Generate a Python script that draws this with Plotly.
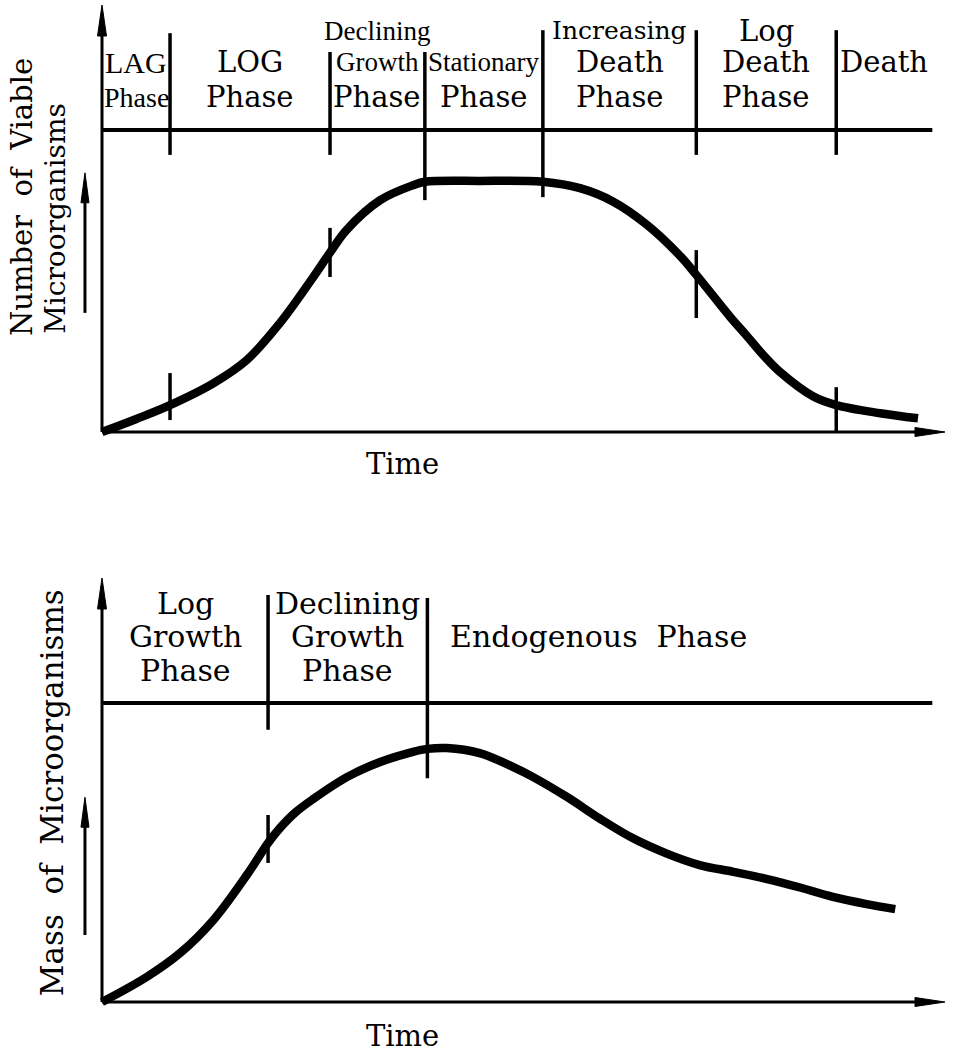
import plotly.graph_objects as go

# ---------------- data ----------------
# Upper panel: number of viable microorganisms against time (schematic units)
top_time = [0, 4.0, 8.07, 13.2, 17.2, 21.1, 25.1, 27.0, 29.0, 33.0, 36.9, 38.3,
            44.8, 52.3, 56.7, 60.6, 64.6, 68.6, 70.5, 74.5, 76.5, 78.4, 80.4,
            84.4, 87.1, 92.3, 96.8]
top_viable = [0, 3.0, 6.3, 11.4, 16.9, 25.5, 36.4, 41.9, 47.3, 54.3, 57.8, 58.6,
              58.8, 58.6, 57.1, 54.0, 48.6, 41.2, 36.8, 27.0, 22.5, 18.1, 14.1,
              8.3, 6.3, 4.4, 3.2]

# Lower panel: mass of microorganisms against time
bottom_time = [0, 5.3, 9.3, 13.2, 17.2, 19.7, 21.1, 23.0, 25.0, 29.1, 33.0, 36.9,
               38.6, 40.9, 44.8, 48.8, 51.1, 55.2, 59.1, 63.0, 67.0, 70.9, 74.9,
               78.9, 82.8, 86.7, 90.7, 94.1]
bottom_mass = [0, 5.9, 11.6, 19.3, 30.0, 37.5, 41.0, 44.8, 47.8, 53.1, 56.6, 59.0,
               59.7, 59.9, 58.7, 55.4, 53.1, 48.3, 43.2, 38.6, 35.0, 32.3, 30.7,
               29.0, 27.0, 24.8, 23.1, 21.9]

# Phase boundaries (time) and the vertical extent of each divider
top_bounds = [8.07, 27.05, 38.3, 52.3, 70.5, 87.1]
top_div_hi = [93.4, 89.0, 89.0, 94.1, 94.1, 94.1]
top_div_lo = [64.9, 64.9, 54.3, 55.0, 64.9, 64.9]
# short marks where a boundary crosses the curve (None = divider reaches curve)
top_mark_lo = [2.8, 36.3, None, None, 26.7, 0.0]
top_mark_hi = [13.8, 47.8, None, None, 42.6, 10.5]

bottom_bounds = [19.7, 38.6]
bottom_div_hi = [96.0, 95.3]
bottom_div_lo = [64.2, 52.8]
bottom_mark_lo = [32.8, None]
bottom_mark_hi = [44.1, None]

header_top = 70.7
header_bottom = 70.5
header_end = 98.5

top_phase_labels = [
    ["LAG", "Phase"],
    ["LOG", "Phase"],
    ["Declining", "Growth", "Phase"],
    ["Stationary", "Phase"],
    ["Increasing", "Death", "Phase"],
    ["Log", "Death", "Phase"],
    ["Death"],
]
bottom_phase_labels = [
    ["Log", "Growth", "Phase"],
    ["Declining", "Growth", "Phase"],
    ["Endogenous  Phase"],
]

SERIF = "DejaVu Serif"
NARROW = "Liberation Serif"
INK = "black"

fig = go.Figure()

# ---------------- curves ----------------
fig.add_trace(go.Scatter(x=top_time, y=top_viable, mode="lines",
                         line=dict(color=INK, width=8.5, shape="spline", smoothing=1.0),
                         xaxis="x", yaxis="y", hoverinfo="skip"))
fig.add_trace(go.Scatter(x=bottom_time, y=bottom_mass, mode="lines",
                         line=dict(color=INK, width=8.5, shape="spline", smoothing=1.0),
                         xaxis="x2", yaxis="y2", hoverinfo="skip"))


def segments(bounds, lo, hi):
    xs, ys = [], []
    for b, a, c in zip(bounds, lo, hi):
        if a is None:
            continue
        xs += [b, b, None]
        ys += [a, c, None]
    return xs, ys


for bounds, dlo, dhi, mlo, mhi, xa, ya in [
        (top_bounds, top_div_lo, top_div_hi, top_mark_lo, top_mark_hi, "x", "y"),
        (bottom_bounds, bottom_div_lo, bottom_div_hi, bottom_mark_lo, bottom_mark_hi, "x2", "y2")]:
    for lo, hi in [(dlo, dhi), (mlo, mhi)]:
        xs, ys = segments(bounds, lo, hi)
        fig.add_trace(go.Scatter(x=xs, y=ys, mode="lines",
                                 line=dict(color=INK, width=3.5),
                                 xaxis=xa, yaxis=ya, hoverinfo="skip"))

# ---------------- axes frame, header rule, arrows ----------------
shapes = []
for xr, yr, hy in [("x", "y", header_top), ("x2", "y2", header_bottom)]:
    # axis lines
    shapes.append(dict(type="line", xref=xr, yref=yr, x0=0, y0=0, x1=0, y1=95,
                       line=dict(color=INK, width=3)))
    shapes.append(dict(type="line", xref=xr, yref=yr, x0=0, y0=0, x1=97, y1=0,
                       line=dict(color=INK, width=3)))
    # header rule
    shapes.append(dict(type="line", xref=xr, yref=yr, x0=0, y0=hy, x1=header_end, y1=hy,
                       line=dict(color=INK, width=4)))
    # arrow heads
    shapes.append(dict(type="path", xref=xr, yref=yr, xsizemode="pixel", ysizemode="pixel",
                       xanchor=0, yanchor=100, path="M0,0 L-4.5,-31 L4.5,-31 Z",
                       fillcolor=INK, line=dict(color=INK, width=1)))
    shapes.append(dict(type="path", xref=xr, yref=yr, xsizemode="pixel", ysizemode="pixel",
                       xanchor=100, yanchor=0, path="M0,0 L-30,4.5 L-30,-4.5 Z",
                       fillcolor=INK, line=dict(color=INK, width=1)))

# small "increasing" arrows beside the y titles
for xr, yr, lo, tip in [("x", "y", 27.9, 60.7), ("x2", "y2", 15.8, 48.3)]:
    shapes.append(dict(type="line", xref=xr, yref=yr, x0=-2.02, x1=-2.02, y0=lo, y1=tip - 5,
                       line=dict(color=INK, width=3)))
    shapes.append(dict(type="path", xref=xr, yref=yr, xsizemode="pixel", ysizemode="pixel",
                       xanchor=-2.02, yanchor=tip, path="M0,0 L-4,-30 L4,-30 Z",
                       fillcolor=INK, line=dict(color=INK, width=1)))

# ---------------- text ----------------
annotations = []


def label(text, x, y, xr, yr, size=29, family=SERIF, angle=0):
    annotations.append(dict(text=text, x=x, y=y, xref=xr, yref=yr, showarrow=False,
                            xanchor="center", yanchor="middle", textangle=angle,
                            font=dict(family=family, size=size, color=INK)))


top_rows = {1: [86.6], 2: [86.6, 78.4], 3: [94.0, 86.6, 78.4]}
top_edges = [0] + top_bounds + [header_end]
# (label, line) -> (font, size) for the tighter-set words
word_style = {(0, 0): (NARROW, 30), (0, 1): (NARROW, 28), (2, 0): (NARROW, 27),
              (2, 1): (NARROW, 27), (3, 0): (NARROW, 27), (4, 0): (SERIF, 25)}
for i, lines in enumerate(top_phase_labels):
    cx = (top_edges[i] + top_edges[i + 1]) / 2
    for j, (word, y) in enumerate(zip(lines, top_rows[len(lines)])):
        family, size = word_style.get((i, j), (SERIF, 29))
        label(word, cx, y, "x", "y", size=size, family=family)

bottom_rows = {1: [86.1], 3: [94.0, 86.1, 78.1]}
bottom_edges = [0] + bottom_bounds + [header_end]
bottom_centers = [(bottom_edges[0] + bottom_edges[1]) / 2,
                  (bottom_edges[1] + bottom_edges[2]) / 2,
                  58.9]
for i, lines in enumerate(bottom_phase_labels):
    for word, y in zip(lines, bottom_rows[len(lines)]):
        label(word, bottom_centers[i], y, "x2", "y2", size=30)

label("Time", 35.6, -7.5, "x", "y", size=29)
label("Time", 35.6, -8.0, "x2", "y2", size=29)

label("Number  of  Viable", -9.5, 55.0, "x", "y", size=29, angle=-90)
label("Microorganisms", -5.6, 50.1, "x", "y", size=28, angle=-90)
label("Mass  of  Microorganisms", -5.9, 49.3, "x2", "y2", size=31, angle=-90)

hidden = dict(visible=False, fixedrange=True)
fig.update_layout(
    width=955, height=1053,
    margin=dict(l=0, r=0, t=0, b=0),
    paper_bgcolor="white", plot_bgcolor="white",
    showlegend=False,
    xaxis=dict(domain=[0, 1], range=[-12.1, 101.19], anchor="y", **hidden),
    yaxis=dict(domain=[0.5, 1], range=[-22.13, 101.17], anchor="x", **hidden),
    xaxis2=dict(domain=[0, 1], range=[-12.1, 101.19], anchor="y2", **hidden),
    yaxis2=dict(domain=[0, 0.5], range=[-12.03, 112.15], anchor="x2", **hidden),
    shapes=shapes,
    annotations=annotations,
)

fig.write_html("out.html")
